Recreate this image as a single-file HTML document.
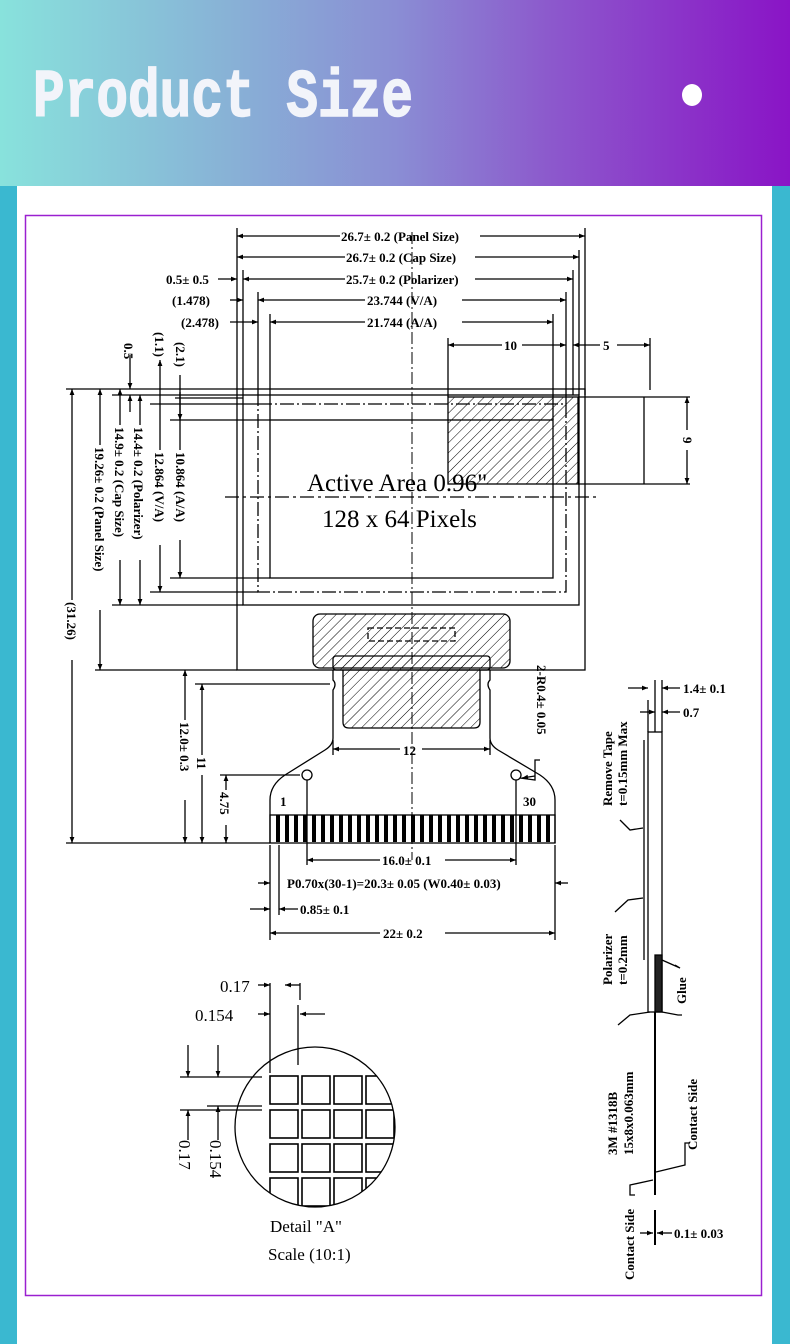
<!DOCTYPE html>
<html><head><meta charset="utf-8"><style>
html,body{margin:0;padding:0;width:790px;height:1344px;overflow:hidden;background:#fff}
svg{display:block}
text{font-family:"Liberation Serif",serif;font-weight:bold;fill:#000}
</style></head><body>
<svg width="790" height="1344" viewBox="0 0 790 1344" xmlns="http://www.w3.org/2000/svg">
<defs>
<linearGradient id="hg" x1="0" x2="1" y1="0" y2="0">
<stop offset="0" stop-color="#88e2dc"/><stop offset="0.3" stop-color="#88b0d6"/><stop offset="0.5" stop-color="#8a8ed4"/><stop offset="0.7" stop-color="#8c58cc"/><stop offset="1" stop-color="#8a14c6"/></linearGradient>
<pattern id="hat" width="7" height="7" patternUnits="userSpaceOnUse" patternTransform="rotate(45)"><line x1="0" y1="0" x2="0" y2="7" stroke="#000" stroke-width="1"/></pattern>
<marker id="a" viewBox="0 0 10 10" refX="10" refY="5" markerWidth="9" markerHeight="6" orient="auto-start-reverse" markerUnits="userSpaceOnUse"><path d="M0,1 L10,5 L0,9z" fill="#000"/></marker>
<clipPath id="cc"><circle cx="315" cy="1127" r="80"/></clipPath>
</defs>
<rect width="790" height="1344" fill="#3ab8d0"/>
<rect x="17" y="186" width="755" height="1158" fill="#fff"/>
<rect x="0" y="0" width="790" height="186" fill="url(#hg)"/>
<text x="33" y="116" textLength="380" lengthAdjust="spacingAndGlyphs" style="font-family:'Liberation Mono',monospace;font-weight:bold;font-size:68px;fill:#f2f4fa;stroke:#f2f4fa;stroke-width:1.5">Product Size</text>
<ellipse cx="692" cy="95" rx="10" ry="11" fill="#fff"/>
<rect x="25.5" y="215.5" width="736" height="1080" fill="none" stroke="#9a20d0" stroke-width="1.5"/>

<g stroke="#000" stroke-width="1.3" fill="none">
<line x1="237" y1="228" x2="237" y2="389"/><line x1="585" y1="228" x2="585" y2="395"/>
<line x1="243" y1="270" x2="243" y2="395"/><line x1="579" y1="250" x2="579" y2="395"/>
<line x1="573" y1="270" x2="573" y2="395"/>
<line x1="258" y1="292" x2="258" y2="404"/><line x1="566" y1="292" x2="566" y2="404"/>
<line x1="270" y1="314" x2="270" y2="420"/><line x1="553" y1="314" x2="553" y2="420"/>
<line x1="448" y1="338" x2="448" y2="397"/><line x1="650" y1="338" x2="650" y2="390"/>
<line x1="237" y1="236" x2="340" y2="236" marker-start="url(#a)"/><line x1="480" y1="236" x2="585" y2="236" marker-end="url(#a)"/>
<line x1="237" y1="257" x2="345" y2="257" marker-start="url(#a)"/><line x1="475" y1="257" x2="579" y2="257" marker-end="url(#a)"/>
<line x1="218" y1="279" x2="237" y2="279" marker-end="url(#a)"/><line x1="243" y1="279" x2="345" y2="279" marker-start="url(#a)"/><line x1="475" y1="279" x2="573" y2="279" marker-end="url(#a)"/>
<line x1="230" y1="300" x2="243" y2="300" marker-end="url(#a)"/><line x1="258" y1="300" x2="365" y2="300" marker-start="url(#a)"/><line x1="462" y1="300" x2="566" y2="300" marker-end="url(#a)"/>
<line x1="230" y1="322" x2="258" y2="322" marker-end="url(#a)"/><line x1="270" y1="322" x2="365" y2="322" marker-start="url(#a)"/><line x1="462" y1="322" x2="553" y2="322" marker-end="url(#a)"/>
<line x1="448" y1="345" x2="502" y2="345" marker-start="url(#a)"/><line x1="522" y1="345" x2="566" y2="345" marker-end="url(#a)"/>
<line x1="573" y1="345" x2="600" y2="345" marker-start="url(#a)"/><line x1="617" y1="345" x2="650" y2="345" marker-end="url(#a)"/>
<rect x="237" y="389" width="348" height="281"/>
<rect x="243" y="395" width="336" height="210"/>
<rect x="258" y="404" width="308" height="188" stroke-dasharray="14,3,2,3"/>
<rect x="270" y="420" width="283" height="158"/>
<rect x="448" y="397" width="130" height="87" fill="url(#hat)"/>
<line x1="578" y1="397" x2="690" y2="397"/><line x1="578" y1="484" x2="690" y2="484"/>
<line x1="644" y1="397" x2="644" y2="484"/>
<line x1="687" y1="397" x2="687" y2="430" marker-start="url(#a)"/><line x1="687" y1="450" x2="687" y2="484" marker-end="url(#a)"/>
<line x1="412" y1="232" x2="412" y2="860" stroke-width="1" stroke-dasharray="12,3,2,3"/>
<line x1="225" y1="497" x2="600" y2="497" stroke-dasharray="14,4,3,4"/>
<line x1="66" y1="389" x2="237" y2="389"/><line x1="112" y1="395" x2="243" y2="395"/>
<line x1="175" y1="398" x2="243" y2="398"/>
<line x1="150" y1="404" x2="258" y2="404"/><line x1="170" y1="420" x2="270" y2="420"/>
<line x1="170" y1="578" x2="270" y2="578"/><line x1="150" y1="592" x2="258" y2="592"/>
<line x1="112" y1="605" x2="243" y2="605"/><line x1="95" y1="670" x2="237" y2="670"/>
<line x1="66" y1="843" x2="270" y2="843"/>
<line x1="72" y1="389" x2="72" y2="600" marker-start="url(#a)"/><line x1="72" y1="660" x2="72" y2="843" marker-end="url(#a)"/>
<line x1="100" y1="389" x2="100" y2="445" marker-start="url(#a)"/><line x1="100" y1="610" x2="100" y2="670" marker-end="url(#a)"/>
<line x1="120" y1="389" x2="120" y2="425" marker-start="url(#a)"/><line x1="120" y1="560" x2="120" y2="605" marker-end="url(#a)"/>
<line x1="130" y1="355" x2="130" y2="389" marker-end="url(#a)"/><line x1="130" y1="395" x2="130" y2="412" marker-start="url(#a)"/>
<line x1="140" y1="395" x2="140" y2="425" marker-start="url(#a)"/><line x1="140" y1="560" x2="140" y2="605" marker-end="url(#a)"/>
<line x1="160" y1="360" x2="160" y2="450" marker-start="url(#a)"/><line x1="160" y1="545" x2="160" y2="592" marker-end="url(#a)"/>
<line x1="180" y1="375" x2="180" y2="450" /><line x1="180" y1="392" x2="180" y2="420" marker-end="url(#a)"/><line x1="180" y1="540" x2="180" y2="578" marker-end="url(#a)"/>
<rect x="313" y="614" width="197" height="54" rx="7" fill="url(#hat)"/>
<rect x="368" y="628" width="87" height="13" stroke-dasharray="6,3"/>
<rect x="333" y="656" width="157" height="14" rx="3" fill="url(#hat)" stroke="#000"/>
<path d="M343,670 V722 Q343,728 349,728 H474 Q480,728 480,722 V670" fill="url(#hat)"/>
<path d="M333,670 V680 Q337,684 333,690 V738 Q333,745 325,750 L285,775 Q270,785 270,800 V843"/>
<path d="M490,670 V680 Q486,684 490,690 V738 Q490,745 498,750 L540,775 Q555,785 555,800 V843"/>
<rect x="270" y="815" width="285" height="28"/>
</g>
<g fill="#000">
<rect x="276" y="815" width="4" height="27"/><rect x="285" y="815" width="4" height="27"/><rect x="294" y="815" width="4" height="27"/><rect x="303" y="815" width="4" height="27"/><rect x="312" y="815" width="4" height="27"/><rect x="321" y="815" width="4" height="27"/><rect x="330" y="815" width="4" height="27"/><rect x="339" y="815" width="4" height="27"/><rect x="348" y="815" width="4" height="27"/><rect x="357" y="815" width="4" height="27"/><rect x="366" y="815" width="4" height="27"/><rect x="375" y="815" width="4" height="27"/><rect x="384" y="815" width="4" height="27"/><rect x="393" y="815" width="4" height="27"/><rect x="402" y="815" width="4" height="27"/><rect x="411" y="815" width="4" height="27"/><rect x="420" y="815" width="4" height="27"/><rect x="429" y="815" width="4" height="27"/><rect x="438" y="815" width="4" height="27"/><rect x="447" y="815" width="4" height="27"/><rect x="456" y="815" width="4" height="27"/><rect x="465" y="815" width="4" height="27"/><rect x="474" y="815" width="4" height="27"/><rect x="483" y="815" width="4" height="27"/><rect x="492" y="815" width="4" height="27"/><rect x="501" y="815" width="4" height="27"/><rect x="510" y="815" width="4" height="27"/><rect x="519" y="815" width="4" height="27"/><rect x="528" y="815" width="4" height="27"/><rect x="537" y="815" width="4" height="27"/><rect x="546" y="815" width="4" height="27"/>
</g>
<g stroke="#000" stroke-width="1.3" fill="none">
<circle cx="307" cy="775" r="5"/><circle cx="516" cy="775" r="5"/>
<line x1="307" y1="780" x2="307" y2="865"/><line x1="516" y1="780" x2="516" y2="865"/>
<line x1="333" y1="740" x2="333" y2="755"/><line x1="490" y1="740" x2="490" y2="755"/>
<line x1="333" y1="749" x2="400" y2="749" marker-start="url(#a)"/><line x1="422" y1="749" x2="490" y2="749" marker-end="url(#a)"/>
<line x1="307" y1="860" x2="380" y2="860" marker-start="url(#a)"/><line x1="445" y1="860" x2="516" y2="860" marker-end="url(#a)"/>
<line x1="270" y1="845" x2="270" y2="940"/><line x1="555" y1="845" x2="555" y2="940"/>
<line x1="279" y1="845" x2="279" y2="915"/>
<line x1="258" y1="883" x2="270" y2="883" marker-end="url(#a)"/><line x1="555" y1="883" x2="568" y2="883" marker-start="url(#a)"/>
<line x1="250" y1="909" x2="270" y2="909" marker-end="url(#a)"/><line x1="279" y1="909" x2="298" y2="909" marker-start="url(#a)"/>
<line x1="270" y1="933" x2="380" y2="933" marker-start="url(#a)"/><line x1="445" y1="933" x2="555" y2="933" marker-end="url(#a)"/>
<path d="M540,760 H535 V780 L520,778" /><line x1="535" y1="776" x2="522" y2="778" marker-end="url(#a)"/>
<line x1="195" y1="684" x2="330" y2="684"/><line x1="220" y1="775" x2="300" y2="775"/>
<line x1="185" y1="670" x2="185" y2="720" marker-start="url(#a)"/><line x1="185" y1="800" x2="185" y2="843" marker-end="url(#a)"/>
<line x1="202" y1="684" x2="202" y2="755" marker-start="url(#a)"/><line x1="202" y1="775" x2="202" y2="843" marker-end="url(#a)"/>
<line x1="226" y1="775" x2="226" y2="790" marker-start="url(#a)"/><line x1="226" y1="825" x2="226" y2="843" marker-end="url(#a)"/>
<rect x="648" y="732" width="14" height="280"/>
<line x1="644" y1="740" x2="644" y2="960"/>
<line x1="655" y1="680" x2="655" y2="732"/><line x1="662" y1="680" x2="662" y2="732"/><line x1="648" y1="700" x2="648" y2="732"/>
<line x1="628" y1="688" x2="648" y2="688" marker-end="url(#a)"/><line x1="680" y1="688" x2="662" y2="688" marker-end="url(#a)"/>
<line x1="640" y1="712" x2="655" y2="712" marker-end="url(#a)"/><line x1="680" y1="712" x2="662" y2="712" marker-end="url(#a)"/>
<path d="M655,955 L662,955 L662,1012 L655,1012 Z" fill="#222"/>
<line x1="655" y1="1012" x2="655" y2="1195" stroke-width="2"/><line x1="655" y1="1210" x2="655" y2="1245" stroke-width="2"/>
<path d="M620,820 L630,830 L643,828"/><path d="M615,912 L628,900 L643,898"/>
<path d="M618,1025 L630,1015 L650,1012"/><path d="M682,1015 L678,1015 L662,1012"/>
<path d="M675,965 L680,968 L662,960"/>
<path d="M635,1195 H630 V1185 L653,1180"/><path d="M690,1143 H685 V1165 L656,1172"/>
<line x1="640" y1="1233" x2="653" y2="1233" marker-end="url(#a)"/><line x1="672" y1="1233" x2="657" y2="1233" marker-end="url(#a)"/>
<circle cx="315" cy="1127" r="80"/>
<line x1="270" y1="983" x2="270" y2="1073"/><line x1="300" y1="983" x2="300" y2="1000"/>
<line x1="298" y1="1005" x2="298" y2="1065"/>
<line x1="258" y1="985" x2="270" y2="985" marker-end="url(#a)"/><line x1="300" y1="985" x2="285" y2="985" marker-end="url(#a)"/>
<line x1="258" y1="1014" x2="270" y2="1014" marker-end="url(#a)"/><line x1="325" y1="1014" x2="300" y2="1014" marker-end="url(#a)"/>
<line x1="180" y1="1077" x2="262" y2="1077"/><line x1="180" y1="1110" x2="262" y2="1110"/><line x1="207" y1="1106" x2="262" y2="1106"/>
<line x1="188" y1="1045" x2="188" y2="1077" marker-end="url(#a)"/><line x1="218" y1="1045" x2="218" y2="1077" marker-end="url(#a)"/>
<line x1="188" y1="1140" x2="188" y2="1110" marker-end="url(#a)"/><line x1="218" y1="1140" x2="218" y2="1106" marker-end="url(#a)"/>
</g>
<g stroke="#000" stroke-width="1.6" fill="none" clip-path="url(#cc)">
<rect x="270" y="1076" width="28" height="28"/><rect x="302" y="1076" width="28" height="28"/><rect x="334" y="1076" width="28" height="28"/><rect x="366" y="1076" width="28" height="28"/>
<rect x="270" y="1110" width="28" height="28"/><rect x="302" y="1110" width="28" height="28"/><rect x="334" y="1110" width="28" height="28"/><rect x="366" y="1110" width="28" height="28"/>
<rect x="270" y="1144" width="28" height="28"/><rect x="302" y="1144" width="28" height="28"/><rect x="334" y="1144" width="28" height="28"/><rect x="366" y="1144" width="28" height="28"/>
<rect x="270" y="1178" width="28" height="28"/><rect x="302" y="1178" width="28" height="28"/><rect x="334" y="1178" width="28" height="28"/><rect x="366" y="1178" width="28" height="28"/>
</g>
<g font-size="13">
<text x="341" y="241">26.7± 0.2 (Panel Size)</text>
<text x="346" y="262">26.7± 0.2 (Cap Size)</text>
<text x="166" y="284">0.5± 0.5</text>
<text x="346" y="284">25.7± 0.2 (Polarizer)</text>
<text x="172" y="305">(1.478)</text>
<text x="367" y="305">23.744 (V/A)</text>
<text x="181" y="327">(2.478)</text>
<text x="367" y="327">21.744 (A/A)</text>
<text x="504" y="350">10</text><text x="603" y="350">5</text>
<text transform="translate(683,437) rotate(90)">9</text>
<text transform="translate(176,342) rotate(90)">(2.1)</text>
<text transform="translate(155,332) rotate(90)">(1.1)</text>
<text transform="translate(124,343) rotate(90)">0.5</text>
<text transform="translate(176,452) rotate(90)">10.864 (A/A)</text>
<text transform="translate(155,452) rotate(90)">12.864 (V/A)</text>
<text transform="translate(134,427) rotate(90)">14.4± 0.2 (Polarizer)</text>
<text transform="translate(115,427) rotate(90)">14.9± 0.2 (Cap Size)</text>
<text transform="translate(95,447) rotate(90)">19.26± 0.2 (Panel Size)</text>
<text transform="translate(67,602) rotate(90)">(31.26)</text>
<text transform="translate(180,722) rotate(90)">12.0± 0.3</text>
<text transform="translate(197,757) rotate(90)">11</text>
<text transform="translate(220,792) rotate(90)">4.75</text>
<text transform="translate(537,665) rotate(90)">2-R0.4± 0.05</text>
<text x="403" y="755">12</text>
<text x="280" y="806">1</text><text x="523" y="806">30</text>
<text x="382" y="865">16.0± 0.1</text>
<text x="287" y="888">P0.70x(30-1)=20.3± 0.05 (W0.40± 0.03)</text>
<text x="300" y="914">0.85± 0.1</text>
<text x="383" y="938">22± 0.2</text>
<text x="683" y="693">1.4± 0.1</text><text x="683" y="717">0.7</text>
<text transform="translate(612,806) rotate(-90)">Remove Tape</text>
<text transform="translate(627,806) rotate(-90)">t=0.15mm Max</text>
<text transform="translate(612,985) rotate(-90)">Polarizer</text>
<text transform="translate(627,985) rotate(-90)">t=0.2mm</text>
<text transform="translate(686,1004) rotate(-90)">Glue</text>
<text transform="translate(617,1155) rotate(-90)">3M #1318B</text>
<text transform="translate(633,1155) rotate(-90)">15x8x0.063mm</text>
<text transform="translate(697,1150) rotate(-90)">Contact Side</text>
<text transform="translate(634,1280) rotate(-90)">Contact Side</text>
<text x="674" y="1238">0.1± 0.03</text>
</g>
<g font-size="17">
<text x="220" y="992" style="font-weight:normal">0.17</text>
<text x="195" y="1021" style="font-weight:normal">0.154</text>
<text transform="translate(179,1140) rotate(90)" style="font-weight:normal">0.17</text>
<text transform="translate(210,1140) rotate(90)" style="font-weight:normal">0.154</text>
<text x="270" y="1232" style="font-weight:normal">Detail "A"</text>
<text x="268" y="1260" style="font-weight:normal">Scale (10:1)</text>
</g>
<text x="307" y="491" font-size="25" style="font-weight:normal">Active Area 0.96"</text>
<text x="322" y="527" font-size="25" style="font-weight:normal">128 x 64 Pixels</text>
</svg>
</body></html>
